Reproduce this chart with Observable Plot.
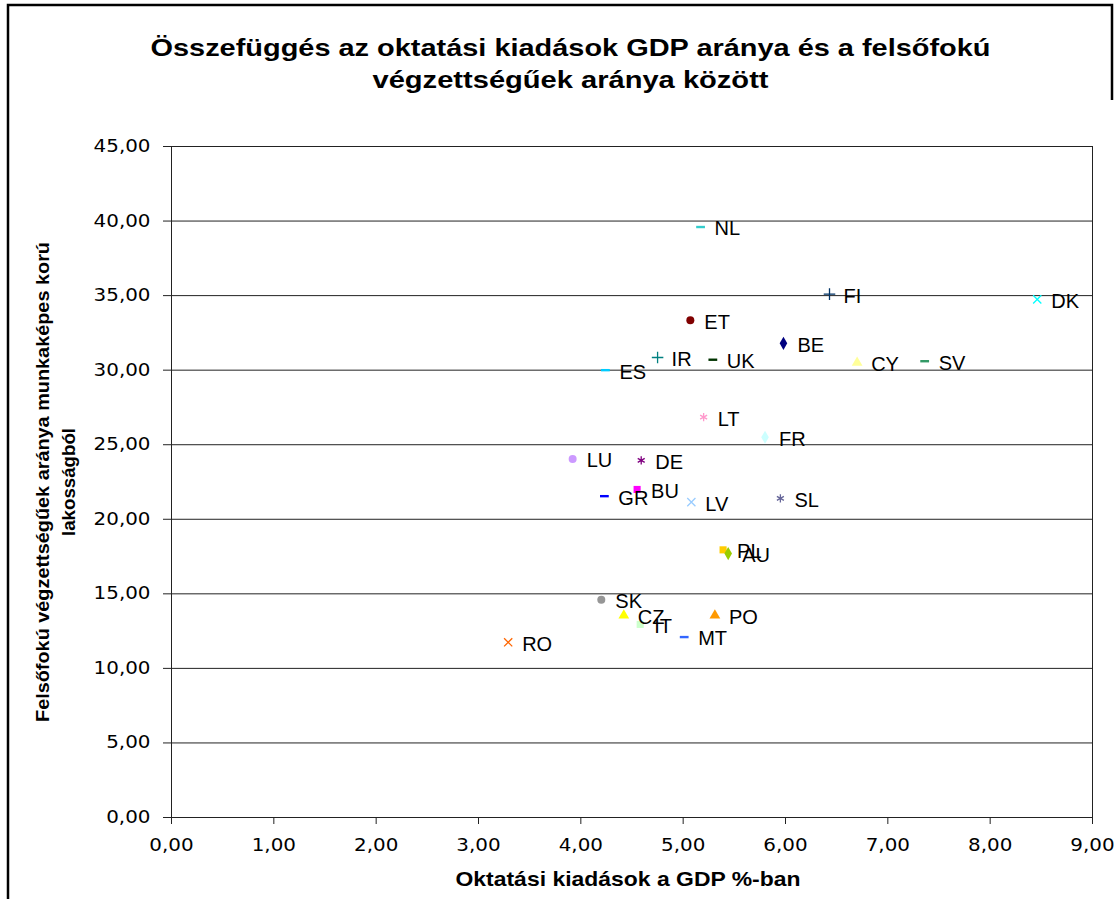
<!DOCTYPE html>
<html>
<head>
<meta charset="utf-8">
<script src="https://cdn.jsdelivr.net/npm/d3@7"></script>
<script src="https://cdn.jsdelivr.net/npm/@observablehq/plot@0.6"></script>
<style>
  html, body { margin: 0; padding: 0; background: #fff; }
  #wrap { position: relative; width: 1118px; height: 899px; overflow: hidden; }
</style>
</head>
<body>
<div id="wrap"></div>
<script>
// ---- data ----
const countries = ["NL","FI","DK","ET","BE","IR","UK","ES","CY","SV","LT","FR","LU","DE","GR","BU","LV","SL","PL","AU","SK","CZ","IT","PO","MT","RO"];
const gdpShare  = [5.17, 6.43, 8.46, 5.07, 5.98, 4.75, 5.29, 4.24, 6.70, 7.36, 5.20, 5.80, 3.92, 4.59, 4.23, 4.55, 5.08, 5.95, 5.39, 5.44, 4.20, 4.42, 4.58, 5.31, 5.01, 3.29];
const tertiary  = [39.6, 35.1, 34.75, 33.35, 31.8, 30.85, 30.7, 30.0, 30.5, 30.6, 26.85, 25.5, 24.05, 23.95, 21.55, 22.0, 21.15, 21.4, 17.95, 17.7, 14.6, 13.55, 12.95, 13.55, 12.1, 11.75];
const markers   = ["dash","plus","times","circle","diamond","plus","dash","dash","triangle","dash","asterisk","diamond","circle","asterisk","dash","square","times","asterisk","square","diamond","circle","triangle","square","triangle","dash","times"];
const colors    = ["#33CCCC","#003366","#00FFFF","#800000","#000080","#008080","#003300","#00CCFF","#FFFF99","#339966","#FF99CC","#CCFFFF","#CC99FF","#800080","#0000FF","#FF00FF","#99CCFF","#666699","#FFCC00","#99CC00","#969696","#FFFF00","#CCFFCC","#FF9900","#3366FF","#FF6600"];
const xTicks = [0,1,2,3,4,5,6,7,8,9];
const yTicks = [0,5,10,15,20,25,30,35,40,45];
const title = ["Összefüggés az oktatási kiadások GDP aránya és a felsőfokú", "végzettségűek aránya között"];
const xTitle = "Oktatási kiadások a GDP %-ban";
const yTitle = ["Felsőfokú végzettségűek aránya munkaképes korú", "lakosságból"];

const rows = countries.map((c, i) => ({name: c, x: gdpShare[i], y: tertiary[i], marker: markers[i], color: colors[i]}));
const filled = new Set(["circle","square","diamond","triangle"]);
const stroked = new Set(["plus","times","asterisk"]);
const fmt = d => d.toFixed(2).replace(".", ",");
const dash = { draw(ctx, size) { const w = Math.sqrt(size) * 0.62; ctx.moveTo(-w, 0); ctx.lineTo(w, 0); } };

const chart = Plot.plot({
  width: 1118,
  height: 899,
  marginLeft: 171,
  marginRight: 26,
  marginTop: 146,
  marginBottom: 82,
  style: { fontFamily: "Liberation Sans, Arial, sans-serif", background: "#fff" },
  x: { domain: [0, 9] },
  y: { domain: [0, 45] },
  color: { type: "identity" },
  symbol: { type: "identity" },
  marks: [
    Plot.gridY(yTicks, { stroke: "#222", strokeOpacity: 1, strokeWidth: 1 }),
    Plot.frame({ stroke: "#222", strokeWidth: 1 }),
    Plot.axisY({ ticks: yTicks, tickFormat: fmt, tickSize: 8, tickPadding: 13, fontSize: 17, fontFamily: "DejaVu Sans", label: null, stroke: "#222" }),
    Plot.axisX({ ticks: xTicks, tickFormat: fmt, tickSize: 7, tickPadding: 14, fontSize: 17, fontFamily: "DejaVu Sans", label: null, stroke: "#222" }),
    Plot.dot(rows.filter(d => filled.has(d.marker)), { x: "x", y: "y", symbol: "marker", fill: "color", stroke: "none", r: 4 }),
    Plot.dot(rows.filter(d => stroked.has(d.marker)), { x: "x", y: "y", symbol: "marker", stroke: "color", fill: "none", r: 3.8, strokeWidth: 1.3 }),
    Plot.dot(rows.filter(d => d.marker === "dash"), { x: "x", y: "y", symbol: dash, stroke: "color", fill: "none", r: 4, strokeWidth: 2.4 }),
    Plot.text(rows, { x: "x", y: "y", text: "name", textAnchor: "start", dx: 14, dy: 2, fontSize: 20, fill: "#000" }),
    Plot.text([title[0]], { frameAnchor: "top", textAnchor: "middle", lineAnchor: "middle", dx: -61.5, dy: -98, fontSize: 24, fontWeight: "bold", fill: "#000" }),
    Plot.text([title[1]], { frameAnchor: "top", textAnchor: "middle", lineAnchor: "middle", dx: -61.5, dy: -66, fontSize: 24, fontWeight: "bold", fill: "#000" }),
    Plot.text([xTitle], { frameAnchor: "bottom", textAnchor: "middle", lineAnchor: "middle", dx: -4, dy: 62, fontSize: 21, fontWeight: "bold", fill: "#000" }),
    Plot.text([yTitle[0]], { frameAnchor: "left", textAnchor: "middle", lineAnchor: "middle", dx: -129, dy: 0, rotate: -90, fontSize: 19, fontWeight: "bold", fill: "#000" }),
    Plot.text([yTitle[1]], { frameAnchor: "left", textAnchor: "middle", lineAnchor: "middle", dx: -103, dy: 0, rotate: -90, fontSize: 19, fontWeight: "bold", fill: "#000" })
  ]
});
document.getElementById("wrap").appendChild(chart);

// outer chart-area border (left, top and the short right piece seen in the reference)
d3.select(chart).append("path")
  .attr("d", "M8,899V5H1112V100")
  .attr("fill", "none")
  .attr("stroke", "#000")
  .attr("stroke-width", 2.5);

// stretch texts horizontally to match the reference proportions
const targets = new Map([[title[0], 840], [title[1], 396], [xTitle, 345], [yTitle[0], 480], [yTitle[1], 108]]);
d3.select(chart).selectAll("text").each(function () {
  const t = this.textContent;
  if (targets.has(t)) {
    this.setAttribute("textLength", targets.get(t));
    this.setAttribute("lengthAdjust", "spacingAndGlyphs");
  } else if (/^\d+,\d\d$/.test(t)) {
    const w = this.getComputedTextLength();
    this.setAttribute("textLength", (w * 1.17).toFixed(1));
    this.setAttribute("lengthAdjust", "spacingAndGlyphs");
  }
});
</script>
</body>
</html>
